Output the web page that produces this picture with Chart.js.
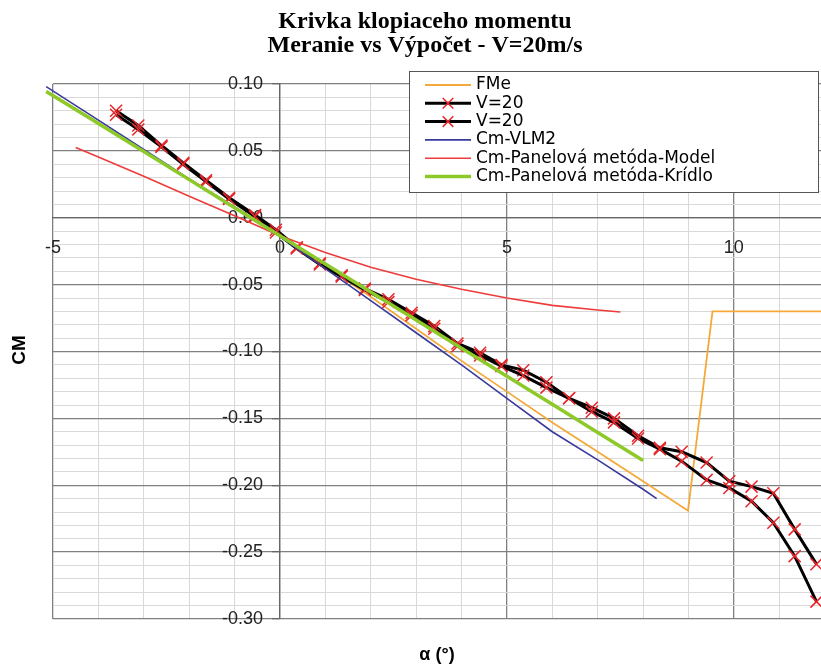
<!DOCTYPE html>
<html>
<head>
<meta charset="utf-8">
<title>Krivka klopiaceho momentu</title>
<script src="https://cdn.jsdelivr.net/npm/chart.js@4.4.0/dist/chart.umd.min.js"></script>
<style>
    html, body { margin: 0; padding: 0; background: #fff; overflow: hidden; }
    #wrap { width: 821px; height: 666px; }
</style>
</head>
<body>
<div id="wrap"><canvas id="cm-chart" width="821" height="666"></canvas></div>
<script>
// Chart texts
const titleLines = ['Krivka klopiaceho momentu', 'Meranie vs Výpočet - V=20m/s'];
const xTitle = 'α (°)';
const yTitle = 'CM';

// FMe
const fmeAlpha = [-5, -4, -3, -2, -1, 0, 1, 2, 3, 4, 5, 6, 7, 8, 8.99, 9.53, 12];
const fmeCm = [0.092, 0.071, 0.050, 0.029, 0.008, -0.013, -0.036, -0.059, -0.083, -0.107, -0.130, -0.153, -0.175, -0.197, -0.219, -0.070, -0.070];

// V=20 measurements (two runs)
const measAlpha = [-3.61, -3.12, -2.61, -2.13, -1.63, -1.12, -0.55, -0.09, 0.37, 0.88, 1.36, 1.87, 2.39, 2.90, 3.40, 3.91,
    4.41, 4.88, 5.36, 5.87, 6.37, 6.87, 7.36, 7.89, 8.37, 8.85, 9.40, 9.90, 10.39, 10.87, 11.34, 11.82];
const measCmA = [0.080, 0.069, 0.054, 0.041, 0.028, 0.015, 0.002, -0.009, -0.022, -0.034, -0.043, -0.053, -0.061, -0.071, -0.081, -0.094,
    -0.101, -0.110, -0.114, -0.123, -0.135, -0.142, -0.150, -0.163, -0.172, -0.175, -0.183, -0.197, -0.201, -0.206, -0.233, -0.259];
const measCmB = [0.077, 0.066, 0.053, 0.040, 0.027, 0.014, 0.001, -0.011, -0.023, -0.035, -0.044, -0.054, -0.063, -0.073, -0.083, -0.096,
    -0.103, -0.111, -0.118, -0.127, -0.135, -0.145, -0.153, -0.165, -0.173, -0.182, -0.196, -0.202, -0.212, -0.228, -0.253, -0.287];

// Cm-VLM2
const vlmAlpha = [-5.15, -4, -3, -2, -1, 0, 1, 2, 3, 4, 5, 6, 7, 8, 8.3];
const vlmCm = [0.098, 0.073, 0.051, 0.029, 0.008, -0.014, -0.038, -0.062, -0.086, -0.110, -0.135, -0.160, -0.181, -0.203, -0.210];

// Cm-Panelová metóda-Model
const modelAlpha = [-4.5, -4, -3, -2, -1, 0, 1, 2, 3, 4, 5, 6, 7, 7.5];
const modelCm = [0.0526, 0.0455, 0.031, 0.016, 0.0015, -0.0135, -0.026, -0.037, -0.046, -0.0535, -0.060, -0.0655, -0.069, -0.0705];

// Cm-Panelová metóda-Krídlo
const kridloAlpha = [-5.15, -4, -3, -2, -1, 0, 1, 2, 3, 4, 5, 6, 7, 8];
const kridloCm = [0.0944, 0.0705, 0.0495, 0.0285, 0.0075, -0.0135, -0.0345, -0.0555, -0.0765, -0.0975, -0.1185, -0.1395, -0.1605, -0.1815];


function toPoints(xs, ys) {
    return xs.map((x, i) => ({ x: x, y: ys[i] }));
}

function isMultiple(value, step) {
    const r = value / step;
    return Math.abs(r - Math.round(r)) < 1e-6;
}

const majorGrid = '#808080';
const minorGrid = '#d9d9d9';

// y labels sit on the left of the axis through x = 0, not on top of it
const yLabelShift = {
    id: 'yLabelShift',
    beforeDraw(chart) {
        const items = chart.scales.y.getLabelItems(chart.chartArea);
        if (items.shifted) return;
        items.forEach(item => { item.options.translation[0] -= 17; });
        items.shifted = true;
    }
};

// Title, axis titles and the boxed legend
const decorations = {
    id: 'decorations',
    afterDraw(chart) {
        const ctx = chart.ctx;
        ctx.save();
        ctx.fillStyle = '#000';

        ctx.font = 'bold 24px "Liberation Serif"';
        ctx.textAlign = 'center';
        ctx.textBaseline = 'alphabetic';
        ctx.fillText(titleLines[0], 425, 28);
        ctx.fillText(titleLines[1], 425, 52);

        ctx.font = 'bold 18px "Liberation Sans"';
        ctx.textBaseline = 'middle';
        ctx.fillText(xTitle, 437, 655);

        ctx.save();
        ctx.translate(20, 350);
        ctx.rotate(-Math.PI / 2);
        ctx.font = 'bold 19px "Liberation Sans"';
        ctx.fillText(yTitle, 0, 0);
        ctx.restore();

        // legend box
        const box = { left: 409.5, top: 71.5, width: 409, height: 121 };
        ctx.fillStyle = '#fff';
        ctx.fillRect(box.left, box.top, box.width, box.height);
        ctx.strokeStyle = '#555';
        ctx.lineWidth = 1;
        ctx.strokeRect(box.left, box.top, box.width, box.height);

        ctx.font = '17px "DejaVu Sans"';
        ctx.textAlign = 'left';
        ctx.textBaseline = 'middle';
        chart.data.datasets.forEach((ds, i) => {
            const y = 85 + i * 18.3;
            ctx.strokeStyle = ds.borderColor;
            ctx.lineWidth = ds.borderWidth;
            ctx.beginPath();
            ctx.moveTo(425, y);
            ctx.lineTo(471, y);
            ctx.stroke();
            if (ds.pointRadius > 0) {
                const r = ds.pointRadius * 0.62;
                ctx.strokeStyle = ds.pointBorderColor;
                ctx.lineWidth = ds.pointBorderWidth;
                ctx.beginPath();
                ctx.moveTo(448 - r, y - r);
                ctx.lineTo(448 + r, y + r);
                ctx.moveTo(448 - r, y + r);
                ctx.lineTo(448 + r, y - r);
                ctx.stroke();
            }
            ctx.fillStyle = '#000';
            ctx.fillText(ds.label, 476, y);
        });
        ctx.restore();
    }
};

function lineSet(label, points, color, width, order) {
    return {
        label: label,
        data: points,
        showLine: true,
        borderColor: color,
        backgroundColor: color,
        borderWidth: width,
        pointRadius: 0,
        pointHoverRadius: 0,
        tension: 0,
        clip: false,
        order: order
    };
}

function measSet(label, points, order) {
    const ds = lineSet(label, points, '#000000', 3, order);
    ds.pointStyle = 'crossRot';
    ds.pointRadius = 8.5;
    ds.pointBorderColor = '#e8262b';
    ds.pointBorderWidth = 1.5;
    return ds;
}

function initChart() {
    const ctx = document.getElementById('cm-chart').getContext('2d');
    window.cmChart = new Chart(ctx, {
        type: 'scatter',
        data: {
            datasets: [
                lineSet('FMe', toPoints(fmeAlpha, fmeCm), '#f5a93a', 1.8, 6),
                measSet('V=20', toPoints(measAlpha, measCmA), 5),
                measSet('V=20', toPoints(measAlpha, measCmB), 4),
                lineSet('Cm-VLM2', toPoints(vlmAlpha, vlmCm), '#3a3a9c', 1.6, 3),
                lineSet('Cm-Panelová metóda-Model', toPoints(modelAlpha, modelCm), '#ee3b3b', 1.6, 2),
                lineSet('Cm-Panelová metóda-Krídlo', toPoints(kridloAlpha, kridloCm), '#8cc929', 3.5, 1)
            ]
        },
        options: {
            responsive: false,
            animation: false,
            layout: { autoPadding: false, padding: { left: 53, right: 0, top: 84, bottom: 47 } },
            plugins: {
                legend: { display: false },
                title: { display: false },
                tooltip: { enabled: false }
            },
            scales: {
                x: {
                    type: 'linear',
                    min: -5,
                    max: 11.92,
                    position: { y: 0 },
                    ticks: {
                        stepSize: 1,
                        includeBounds: false,
                        autoSkip: false,
                        maxRotation: 0,
                        padding: 0,
                        color: '#222',
                        font: { family: '"Liberation Sans"', size: 18 },
                        callback: v => isMultiple(v, 5) ? String(v) : ''
                    },
                    grid: {
                        color: c => isMultiple(c.tick.value, 5) ? majorGrid : minorGrid,
                        lineWidth: c => isMultiple(c.tick.value, 5) ? 1.3 : 1,
                        tickLength: 19,
                        tickColor: 'rgba(0,0,0,0)'
                    },
                    border: { color: '#666', width: 1.3 }
                },
                y: {
                    type: 'linear',
                    min: -0.30,
                    max: 0.10,
                    position: { x: 0 },
                    ticks: {
                        stepSize: 0.01,
                        autoSkip: false,
                        padding: 10,
                        color: '#222',
                        font: { family: '"Liberation Sans"', size: 18 },
                        callback: v => {
                            if (!isMultiple(v, 0.05)) return '';
                            return Math.abs(v) < 1e-9 ? '0.00' : v.toFixed(2);
                        }
                    },
                    grid: {
                        color: c => isMultiple(c.tick.value, 0.05) ? majorGrid : minorGrid,
                        lineWidth: c => isMultiple(c.tick.value, 0.05) ? 1.3 : 1,
                        tickLength: 7,
                        tickColor: c => isMultiple(c.tick.value, 0.05) ? '#666' : 'rgba(0,0,0,0)'
                    },
                    border: { color: '#666', width: 1.3 }
                }
            }
        },
        plugins: [yLabelShift, decorations]
    });
}

window.onload = initChart;
</script>
</body>
</html>
